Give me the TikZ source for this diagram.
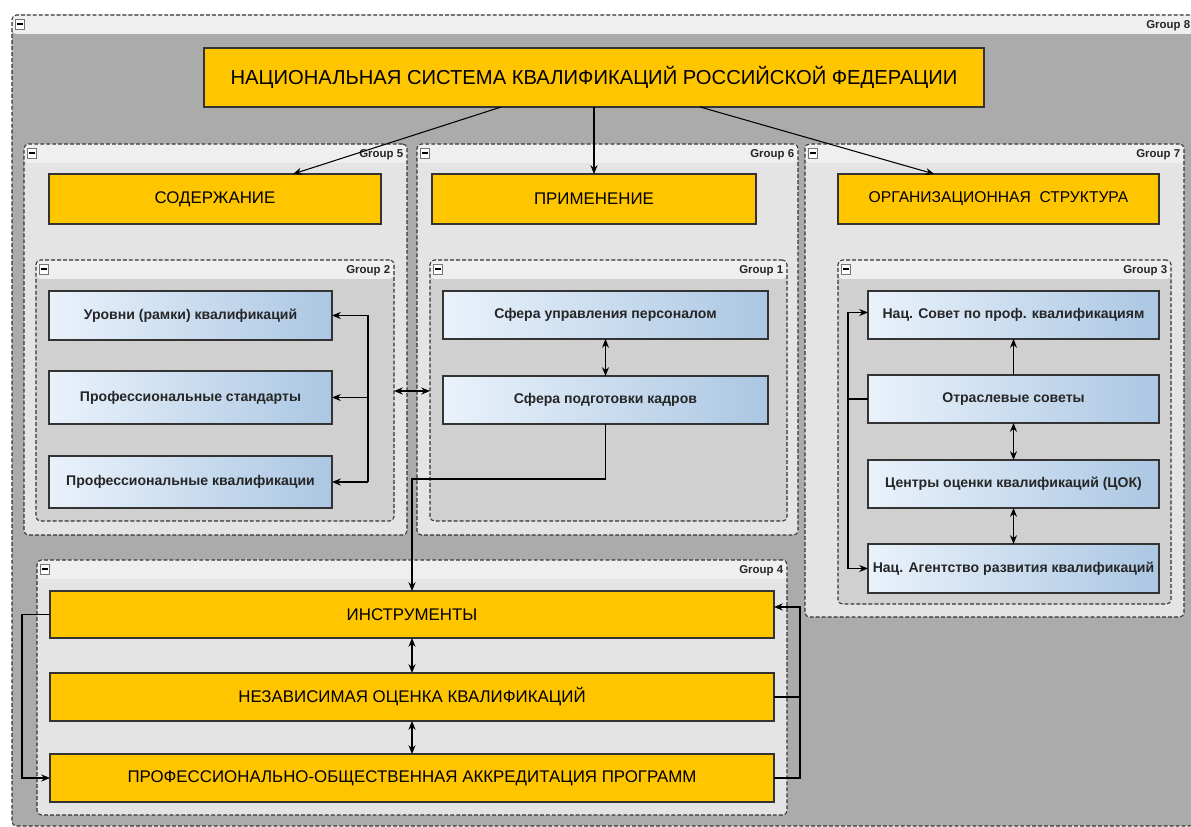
\documentclass[tikz,border=0pt]{standalone}
\usepackage{fontspec}
\setmainfont{Liberation Sans}
\usepackage{xcolor}
\usetikzlibrary{fit, calc, arrows.meta, positioning}

\definecolor{zheltyj}{HTML}{FFC600}
\definecolor{fon8}{HTML}{ABABAB}
\definecolor{polosa}{HTML}{EFEFEF}
\definecolor{fonsvetl}{HTML}{E4E4E4}
\definecolor{fontemn}{HTML}{D0D0D0}
\definecolor{sinL}{HTML}{EAF2FB}
\definecolor{sinR}{HTML}{ABC7E3}

\newcommand{\minusznak}{\rule{3.5pt}{1.1pt}}

\begin{document}
\begin{tikzpicture}[x=0.02cm, y=-0.02cm,
  >={Stealth[length=5pt, width=4pt]},
  grp/.style={draw=black!80, dash pattern=on 2.2pt off 1.2pt, line width=0.6pt,
    rounded corners=2.5pt, fill=#1, inner sep=0pt, outer sep=0pt,
    path picture={\fill[polosa] (path picture bounding box.north west)
      rectangle ([yshift=-0.38cm]path picture bounding box.north east);}},
  glabel/.style={anchor=north east, solid, inner sep=1pt, xshift=-1pt, yshift=-2pt,
    font=\fontsize{6.5}{7}\selectfont\bfseries, text=black!85},
  minus/.style={anchor=north west, solid, draw=black!55, fill=white, inner sep=0pt,
    minimum width=5.5pt, minimum height=6pt, xshift=1.5pt, yshift=-2pt},
  ybox/.style={draw=black!80, fill=zheltyj, line width=0.7pt, inner sep=0pt, outer sep=0pt},
  bbox/.style={draw=black!80, left color=sinL, right color=sinR, line width=0.7pt,
    inner sep=0pt, outer sep=0pt},
  ytxt/.style={label={[font=\fontsize{9.6}{11}\selectfont]center:#1}},
  btxt/.style={label={[font=\fontsize{8}{9}\selectfont\bfseries, text=black!85]center:#1}},
  strelka/.style={line width=1pt},
  tonk/.style={line width=0.6pt}]

  \useasboundingbox[fill=white] (0,0) rectangle (1191,827);
  \clip (0,0) rectangle (1191,827);

  % Группы
  \node[grp=fon8, fit={(12,15) (1194,826)}, label={[glabel]north east:Group 8},
    label={[minus]north west:\minusznak}] (g8) {};
  \node[grp=fonsvetl, fit={(24,144) (407,535)}, label={[glabel]north east:Group 5},
    label={[minus]north west:\minusznak}] (g5) {};
  \node[grp=fonsvetl, fit={(417,144) (798,535)}, label={[glabel]north east:Group 6},
    label={[minus]north west:\minusznak}] (g6) {};
  \node[grp=fonsvetl, fit={(805,144) (1184,617)}, label={[glabel]north east:Group 7},
    label={[minus]north west:\minusznak}] (g7) {};
  \node[grp=fontemn, fit={(36,260) (394,521)}, label={[glabel]north east:Group 2},
    label={[minus]north west:\minusznak}] (g2) {};
  \node[grp=fontemn, fit={(430,260) (787,521)}, label={[glabel]north east:Group 1},
    label={[minus]north west:\minusznak}] (g1) {};
  \node[grp=fontemn, fit={(838,260) (1171,604)}, label={[glabel]north east:Group 3},
    label={[minus]north west:\minusznak}] (g3) {};
  \node[grp=fonsvetl, fit={(37,560) (787,815)}, label={[glabel]north east:Group 4},
    label={[minus]north west:\minusznak}] (g4) {};

  % Главный блок и разделы
  \node[ybox, fit={(204,48) (984,107)},
    label={[font=\fontsize{11.5}{13}\selectfont]center:НАЦИОНАЛЬНАЯ СИСТЕМА КВАЛИФИКАЦИЙ РОССИЙСКОЙ ФЕДЕРАЦИИ}] (nsk) {};
  \node[ybox, fit={(49,174) (381,224)}, ytxt=СОДЕРЖАНИЕ] (sod) {};
  \node[ybox, fit={(432,174) (756,224)}, ytxt=ПРИМЕНЕНИЕ] (prim) {};
  \node[ybox, fit={(838,174) (1159,224)},
    label={[font=\fontsize{8.9}{11}\selectfont]center:ОРГАНИЗАЦИОННАЯ\ \ СТРУКТУРА}] (org) {};

  % Содержание
  \node[bbox, fit={(49,291) (332,340)}, btxt={Уровни (рамки) квалификаций}] (urov) {};
  \node[bbox, fit={(49,371) (332,424)}, btxt={Профессиональные стандарты}] (pstand) {};
  \node[bbox, fit={(49,456) (332,508)}, btxt={Профессиональные квалификации}] (pkval) {};

  % Применение
  \node[bbox, fit={(443,291) (768,339)}, btxt={Сфера управления персоналом}] (sup) {};
  \node[bbox, fit={(443,376) (768,424)}, btxt={Сфера подготовки кадров}] (spo) {};

  % Организационная структура
  \node[bbox, fit={(868,291) (1159,339)}, btxt={Нац. Совет по проф. квалификациям}] (nsov) {};
  \node[bbox, fit={(868,375) (1159,423)}, btxt={Отраслевые советы}] (otr) {};
  \node[bbox, fit={(868,460) (1159,508)}, btxt={Центры оценки квалификаций (ЦОК)}] (cok) {};
  \node[bbox, fit={(868,544) (1159,593)}, btxt={Нац. Агентство развития квалификаций}] (nagen) {};

  % Инструменты
  \node[ybox, fit={(50,591) (774,638)}, ytxt=ИНСТРУМЕНТЫ] (instr) {};
  \node[ybox, fit={(50,673) (774,721)}, ytxt={НЕЗАВИСИМАЯ ОЦЕНКА КВАЛИФИКАЦИЙ}] (nez) {};
  \node[ybox, fit={(50,754) (774,802)}, ytxt={ПРОФЕССИОНАЛЬНО-ОБЩЕСТВЕННАЯ АККРЕДИТАЦИЯ ПРОГРАММ}] (pro) {};

  % Стрелки от главного блока
  \draw[tonk, ->] ($(nsk.south west)!0.381!(nsk.south east)$) -- ($(sod.north west)!0.735!(sod.north east)$);
  \draw[tonk, ->] (nsk.south) -- (prim.north);
  \draw[tonk, ->] ($(nsk.south west)!0.636!(nsk.south east)$) -- ($(org.north west)!0.3!(org.north east)$);

  % Шина в группе 2
  \coordinate (shina2) at (368,398);
  \draw[strelka] (shina2 |- urov.east) -- (shina2 |- pkval.east);
  \foreach \b in {urov, pstand, pkval}
    \draw[strelka, ->] (shina2 |- \b.east) -- (\b.east);
  \draw[strelka, <->] (g2.east |- 0,391) -- (g1.west |- 0,391);

  % Группа 1
  \draw[strelka, <->] (sup.south) -- (spo.north);
  \draw[tonk, ->] (spo.south) -- ++(0,55) -| (instr.north);

  % Группа 3
  \draw[tonk, ->] (otr.north) -- (nsov.south);
  \draw[strelka, <->] (otr.south) -- (cok.north);
  \draw[strelka, <->] (cok.south) -- (nagen.north);
  \draw[tonk, ->] (otr.west) -- ++(-20,0) |- ([yshift=0.05cm]nsov.west);
  \draw[tonk, ->] (otr.west) -- ++(-20,0) |- (nagen.west);

  % Группа 4
  \draw[strelka, <->] (instr.south) -- (nez.north);
  \draw[strelka, <->] (nez.south) -- (pro.north);
  \draw[tonk, ->] (instr.west) -- ++(-28,0) |- (pro.west);
  \coordinate (shina4) at (800,700);
  \draw[tonk, ->] (nez.east) -- (shina4 |- nez.east) |- ([yshift=0.15cm]instr.east);
  \draw[tonk] (pro.east) -- (shina4 |- pro.east) -- (shina4 |- nez.east);
\end{tikzpicture}
\end{document}
